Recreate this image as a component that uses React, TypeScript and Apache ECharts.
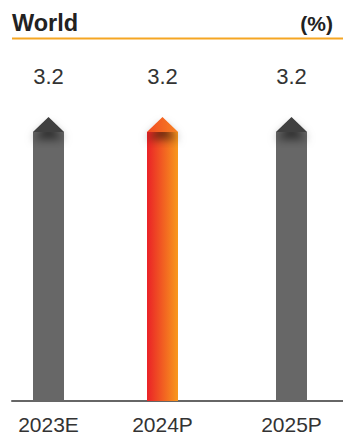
import React, { useEffect, useRef } from "react";
import * as echarts from "echarts";

const categories = ["2023E", "2024P", "2025P"];
const values = [3.2, 3.2, 3.2];
const highlight = [false, true, false];
const title = "World";
const unit = "(%)";

const grids = [
  { left: 12, width: 73 },
  { left: 85, width: 155 },
  { left: 240, width: 105 },
];

export default function App() {
  const ref = useRef<HTMLDivElement>(null);
  useEffect(() => {
    if (!ref.current) return;
    const chart = echarts.init(ref.current, undefined, { renderer: "svg" });
    const orangeBody = new echarts.graphic.LinearGradient(0, 0, 1, 0, [
      { offset: 0, color: "#ea2227" },
      { offset: 1, color: "#f8981d" },
    ]);
    const orangeTri = new echarts.graphic.LinearGradient(0, 0, 1, 0, [
      { offset: 0, color: "#f04a24" },
      { offset: 1, color: "#f7821f" },
    ]);
    const series: any[] = [];
    const xAxis: any[] = [];
    const yAxis: any[] = [];
    grids.forEach((g, i) => {
      xAxis.push({
        type: "category",
        gridIndex: i,
        data: [categories[i]],
        axisLine: { lineStyle: { color: "#666666", width: 2 } },
        axisTick: { show: false },
        axisLabel: {
          color: "#333333",
          fontSize: 21,
          fontFamily: "Liberation Sans, Arial, sans-serif",
          margin: 13,
        },
      });
      yAxis.push({
        type: "value",
        gridIndex: i,
        min: 0,
        max: 3.2,
        show: false,
        splitLine: { show: false },
      });
      series.push({
        type: "bar",
        xAxisIndex: i,
        yAxisIndex: i,
        data: [values[i]],
        barWidth: 31,
        itemStyle: { color: highlight[i] ? orangeBody : "#676767" },
        label: {
          show: true,
          position: "top",
          distance: 45,
          fontSize: 22,
          color: "#333333",
          fontFamily: "Liberation Sans, Arial, sans-serif",
        },
        z: 2,
      });
      series.push({
        type: "pictorialBar",
        xAxisIndex: i,
        yAxisIndex: i,
        data: [values[i]],
        symbol: "triangle",
        symbolSize: [31, 15],
        symbolPosition: "end",
        symbolOffset: [0, "-100%"],
        itemStyle: {
          color: highlight[i] ? orangeTri : "#3f3f3f",
          shadowColor: "rgba(0,0,0,0.6)",
          shadowBlur: 9,
          shadowOffsetY: 7,
        },
        z: 3,
      });
    });
    chart.setOption({
      animation: false,
      grid: grids.map((g) => ({ left: g.left, width: g.width, top: 132, bottom: 28 })),
      xAxis,
      yAxis,
      series,
      graphic: [
        {
          type: "text",
          x: 12,
          y: 23,
          style: {
            text: title,
            fontSize: 23.5,
            fontWeight: "bold",
            fill: "#222222",
            verticalAlign: "middle",
            fontFamily: "Liberation Sans, Arial, sans-serif",
          },
        },
        {
          type: "text",
          x: 333,
          y: 23,
          style: {
            text: unit,
            fontSize: 21,
            fontWeight: "bold",
            fill: "#222222",
            align: "right",
            verticalAlign: "middle",
            fontFamily: "Liberation Sans, Arial, sans-serif",
          },
        },
        {
          type: "line",
          shape: { x1: 12, y1: 38.5, x2: 343, y2: 38.5 },
          style: { stroke: "#f5a623", lineWidth: 2 },
        },
      ],
    });
    return () => chart.dispose();
  }, []);
  return (
    <div
      ref={ref}
      style={{ width: 343, height: 435, position: "absolute", left: 0, top: 0 }}
    />
  );
}
